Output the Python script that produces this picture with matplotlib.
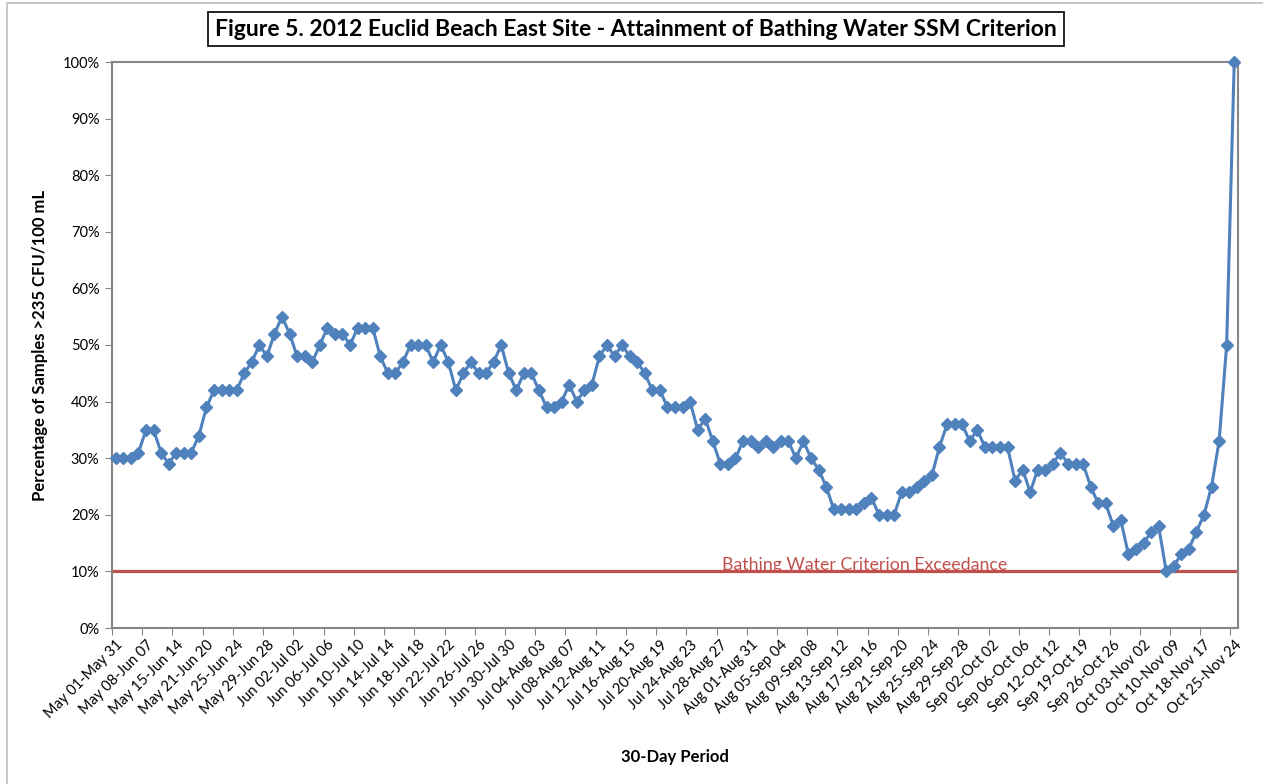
import matplotlib
matplotlib.use("Agg")
import matplotlib.pyplot as plt
from matplotlib.patches import Rectangle

plt.rcParams['font.family'] = ['Lato', 'DejaVu Sans']

# percentage of samples above 235 CFU/100 mL, one value per 30-day window
pct = [30, 30, 30, 31, 35, 35, 31, 29, 31, 31, 31, 34, 39, 42, 42, 42, 42, 45, 47, 50,
       48, 52, 55, 52, 48, 48, 47, 50, 53, 52, 52, 50, 53, 53, 53, 48, 45, 45, 47,
       50, 50, 50, 47, 50, 47, 42, 45, 47, 45, 45, 47, 50, 45, 42, 45, 45, 42, 39, 39,
       40, 43, 40, 42, 43, 48, 50, 48, 50, 48, 47, 45, 42, 42, 39, 39, 39, 40,
       35, 37, 33, 29, 29, 30, 33, 33, 32, 33, 32, 33, 33, 30, 33, 30, 28, 25, 21, 21,
       21, 21, 22, 23, 20, 20, 20, 24, 24, 25, 26, 27, 32, 36, 36, 36, 33, 35,
       32, 32, 32, 32, 26, 28, 24, 28, 28, 29, 31, 29, 29, 29, 25, 22, 22, 18, 19, 13,
       14, 15, 17, 18, 10, 11, 13, 14, 17, 20, 25, 33, 50, 100]

# labels shown on every 4th window
period_labels = ['May 01-May 31', 'May 08-Jun 07', 'May 15-Jun 14', 'May 21-Jun 20',
                 'May 25-Jun 24', 'May 29-Jun 28', 'Jun 02-Jul 02', 'Jun 06-Jul 06',
                 'Jun 10-Jul 10', 'Jun 14-Jul 14', 'Jun 18-Jul 18', 'Jun 22-Jul 22',
                 'Jun 26-Jul 26', 'Jun 30-Jul 30', 'Jul 04-Aug 03', 'Jul 08-Aug 07',
                 'Jul 12-Aug 11', 'Jul 16-Aug 15', 'Jul 20-Aug 19', 'Jul 24-Aug 23',
                 'Jul 28-Aug 27', 'Aug 01-Aug 31', 'Aug 05-Sep 04', 'Aug 09-Sep 08',
                 'Aug 13-Sep 12', 'Aug 17-Sep 16', 'Aug 21-Sep 20', 'Aug 25-Sep 24',
                 'Aug 29-Sep 28', 'Sep 02-Oct 02', 'Sep 06-Oct 06', 'Sep 12-Oct 12',
                 'Sep 19-Oct 19', 'Sep 26-Oct 26', 'Oct 03-Nov 02', 'Oct 10-Nov 09',
                 'Oct 18-Nov 17', 'Oct 25-Nov 24']
label_step = 4
criterion = 10

n = len(pct)
x = list(range(n))

fig = plt.figure(figsize=(12.63, 7.84), dpi=100)
ax = fig.add_axes([112/1263, 1 - 628/784, (1238-112)/1263, (628-62)/784])

ax.axhline(criterion, color='#C0504D', lw=2.3, zorder=2)
ax.text(80.2, criterion + 0.3, 'Bathing Water Criterion Exceedance', color='#C0504D',
        fontsize=12.8, ha='left', va='baseline')

ax.plot(x, pct, color='#4F81BD', lw=2.2, marker='D', markersize=6.3,
        markeredgecolor='#4F81BD', zorder=3, clip_on=False)

ax.set_xlim(-0.5, n - 0.5)
ax.set_ylim(0, 100)
ax.set_yticks(range(0, 101, 10))
ax.set_yticklabels([f'{v}%' for v in range(0, 101, 10)], fontsize=10.5)

ax.set_xticks([i - 0.5 for i in range(0, n, label_step)])
ax.set_xticklabels([])
ax.set_xticks(range(0, n, label_step), minor=True)
ax.set_xticklabels(period_labels, minor=True, rotation=45, ha='right',
                   rotation_mode='anchor', fontsize=10.5)
ax.tick_params(axis='x', which='minor', length=0, pad=7)
ax.tick_params(axis='x', which='major', length=5, color='#868686')
ax.tick_params(axis='y', length=5, color='#868686', pad=4)

for s in ax.spines.values():
    s.set_color('#868686')
    s.set_linewidth(1.5)

ax.set_xlabel('30-Day Period', fontsize=12, fontweight='bold', labelpad=20)
ax.set_ylabel('Percentage of Samples >235 CFU/100 mL', fontsize=12, fontweight='bold', labelpad=10)

fig.text(636/1263, 1 - 29/784,
         'Figure 5. 2012 Euclid Beach East Site - Attainment of Bathing Water SSM Criterion',
         ha='center', va='center', fontsize=16.5, fontweight='bold',
         bbox=dict(facecolor='white', edgecolor='black', lw=1.2, boxstyle='square,pad=0.3'))

# outer chart border
fig.patches.append(Rectangle((7/1263, -0.1), 1.2, 1 - 3/784 + 0.1, transform=fig.transFigure,
                             fill=False, edgecolor='#BFBFBF', lw=1.2))

fig.savefig('out.png', dpi=100)
